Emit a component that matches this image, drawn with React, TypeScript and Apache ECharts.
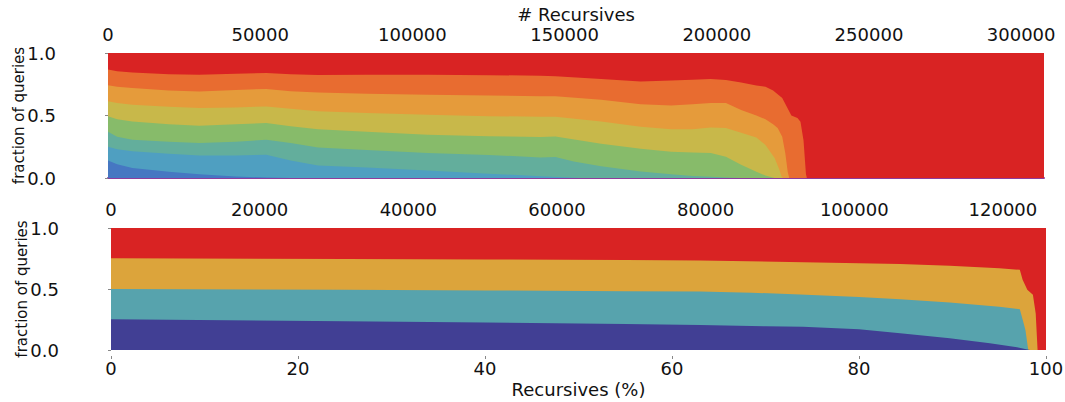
import React, { useEffect, useRef } from "react";
import * as echarts from "echarts";

// ---------- Top chart: cumulative boundaries vs # Recursives ----------
const topMax = 307500;
const topTicks = [0, 50000, 100000, 150000, 200000, 250000, 300000];

const topRed: number[][] = [[0, 1], [307500, 1]];
const topOrange: number[][] = [[0, 0.868], [3000, 0.855], [8000, 0.845], [20000, 0.83], [30000, 0.826], [42000, 0.835], [52000, 0.84], [60000, 0.83], [69000, 0.825], [85000, 0.826], [105000, 0.826], [125000, 0.823], [142000, 0.818], [147000, 0.815], [162000, 0.792], [175000, 0.773], [185000, 0.78], [192000, 0.786], [198000, 0.792], [203000, 0.785], [208000, 0.765], [213000, 0.74], [216000, 0.73], [218500, 0.7], [220000, 0.67], [221500, 0.64], [223000, 0.57], [224500, 0.5], [226500, 0.48], [227500, 0.45], [228500, 0.3], [229300, 0.03], [229600, 0]];
const topLightOrange: number[][] = [[0, 0.742], [3000, 0.73], [8000, 0.72], [20000, 0.7], [30000, 0.693], [42000, 0.705], [52000, 0.712], [60000, 0.695], [69000, 0.685], [85000, 0.675], [105000, 0.666], [125000, 0.66], [142000, 0.655], [147000, 0.655], [162000, 0.626], [175000, 0.59], [185000, 0.58], [192000, 0.59], [198000, 0.6], [203000, 0.6], [208000, 0.545], [213000, 0.5], [216000, 0.47], [218500, 0.43], [220000, 0.4], [221500, 0.33], [222500, 0.2], [223300, 0.05], [223800, 0]];
const topYellow: number[][] = [[0, 0.615], [3000, 0.6], [8000, 0.586], [20000, 0.57], [30000, 0.56], [42000, 0.565], [52000, 0.573], [60000, 0.555], [69000, 0.535], [85000, 0.52], [105000, 0.506], [125000, 0.495], [142000, 0.49], [147000, 0.49], [162000, 0.453], [175000, 0.41], [185000, 0.39], [192000, 0.39], [198000, 0.405], [203000, 0.4], [208000, 0.362], [213000, 0.325], [216000, 0.265], [219000, 0.16], [220500, 0.07], [221300, 0.01], [221800, 0]];
const topGreen: number[][] = [[0, 0.495], [3000, 0.47], [8000, 0.453], [20000, 0.43], [30000, 0.418], [42000, 0.43], [52000, 0.44], [60000, 0.415], [69000, 0.39], [85000, 0.37], [105000, 0.346], [125000, 0.335], [142000, 0.328], [147000, 0.333], [162000, 0.275], [175000, 0.235], [185000, 0.21], [192000, 0.205], [198000, 0.2], [203000, 0.17], [208000, 0.106], [213000, 0.05], [216000, 0.02], [219000, 0]];
const topTeal: number[][] = [[0, 0.37], [3000, 0.33], [8000, 0.306], [20000, 0.29], [30000, 0.28], [42000, 0.29], [52000, 0.306], [60000, 0.28], [69000, 0.245], [85000, 0.225], [105000, 0.2], [125000, 0.185], [142000, 0.165], [147000, 0.168], [153000, 0.133], [162000, 0.095], [175000, 0.053], [185000, 0.03], [192000, 0.017], [198000, 0.01], [203000, 0.005], [208000, 0]];
const topLightBlue: number[][] = [[0, 0.25], [3000, 0.23], [8000, 0.215], [20000, 0.195], [30000, 0.18], [42000, 0.18], [52000, 0.186], [60000, 0.14], [69000, 0.1], [85000, 0.085], [105000, 0.06], [125000, 0.035], [142000, 0.015], [155000, 0]];
const topBlue: number[][] = [[0, 0.14], [3000, 0.11], [8000, 0.08], [20000, 0.05], [30000, 0.03], [42000, 0.012], [52000, 0.004], [60000, 0]];

// ---------- Bottom chart: cumulative boundaries vs Recursives (%) ----------
const botCountMax = 125800;
const botPctTicks = [0, 20, 40, 60, 80, 100];

const botRed: number[][] = [[0, 1], [100, 1]];
const botOrange: number[][] = [[0, 0.753], [25, 0.745], [40, 0.742], [55, 0.738], [63, 0.734], [80, 0.712], [84.4, 0.705], [89.7, 0.69], [95, 0.671], [97.2, 0.657], [97.5, 0.575], [98, 0.493], [98.6, 0.452], [98.9, 0.3], [99.1, 0]];
const botTeal: number[][] = [[0, 0.501], [25, 0.493], [40, 0.488], [55, 0.482], [63, 0.479], [68.5, 0.47], [73.7, 0.455], [80, 0.435], [84.4, 0.415], [89.7, 0.39], [95, 0.355], [97.2, 0.335], [97.5, 0.25], [97.8, 0.164], [98.1, 0]];
const botNavy: number[][] = [[0, 0.252], [25, 0.235], [40, 0.225], [55, 0.213], [63, 0.205], [70, 0.195], [74, 0.19], [80, 0.17], [84.4, 0.137], [89.7, 0.096], [94, 0.055], [96.9, 0.022], [98, 0.005], [98.3, 0]];

const FONT = "DejaVu Sans";
const TXT = "#111";
const FS = 18;

function area(data: number[][], color: string, xi: number, yi: number) {
  return {
    type: "line",
    data,
    xAxisIndex: xi,
    yAxisIndex: yi,
    showSymbol: false,
    symbol: "none",
    silent: true,
    lineStyle: { width: 0 },
    areaStyle: { color, opacity: 1 },
    itemStyle: { color },
  };
}

const plain = (v: number) => String(v);

export default function App() {
  const ref = useRef<HTMLDivElement>(null);
  useEffect(() => {
    if (!ref.current) return;
    const chart = echarts.init(ref.current, undefined, { renderer: "svg" });
    const yAxisBase = (gi: number) => ({
      type: "value",
      gridIndex: gi,
      min: 0,
      max: 1,
      interval: 0.5,
      offset: 47,
      axisLine: { show: false },
      axisTick: { show: true, length: 3, lineStyle: { color: "#888" } },
      splitLine: { show: false },
      axisLabel: {
        fontSize: FS,
        fontFamily: FONT,
        color: TXT,
        margin: 5,
        formatter: (v: number) => v.toFixed(1),
      },
      name: "fraction of queries",
      nameLocation: "middle",
      nameGap: 35,
      nameMoveOverlap: false,
      nameTextStyle: { fontSize: 15, fontFamily: FONT, color: TXT },
    });
    const option: any = {
      animation: false,
      grid: [
        { left: 108, top: 53, width: 936, height: 125, containLabel: false, outerBoundsMode: "none" },
        { left: 111, top: 228, width: 935, height: 122, containLabel: false, outerBoundsMode: "none" },
      ],
      xAxis: [
        {
          type: "value",
          gridIndex: 0,
          position: "top",
          min: 0,
          max: topMax,
          interval: topTicks[1] - topTicks[0],
          offset: 6,
          axisLine: { show: false },
          axisTick: { show: true, length: 3, lineStyle: { color: "#888" } },
          splitLine: { show: false },
          axisLabel: { fontSize: FS, fontFamily: FONT, color: TXT, margin: 4, showMaxLabel: false, formatter: plain },
          name: "# Recursives",
          nameLocation: "middle",
          nameGap: 24,
          nameMoveOverlap: false,
          nameTextStyle: { fontSize: FS, fontFamily: FONT, color: TXT },
        },
        {
          type: "value",
          gridIndex: 0,
          position: "bottom",
          min: 0,
          max: topMax,
          axisLine: { show: true, lineStyle: { color: "#8e3c9c", width: 2 } },
          axisTick: { show: false },
          axisLabel: { show: false },
          splitLine: { show: false },
        },
        {
          type: "value",
          gridIndex: 1,
          position: "top",
          min: 0,
          max: botCountMax,
          interval: 20000,
          offset: 6,
          axisLine: { show: false },
          axisTick: { show: true, length: 3, lineStyle: { color: "#888" } },
          splitLine: { show: false },
          axisLabel: { fontSize: FS, fontFamily: FONT, color: TXT, margin: 4, showMaxLabel: false, formatter: plain },
        },
        {
          type: "value",
          gridIndex: 1,
          position: "bottom",
          min: 0,
          max: 100,
          interval: botPctTicks[1] - botPctTicks[0],
          offset: 6,
          axisLine: { show: false },
          axisTick: { show: true, length: 3, lineStyle: { color: "#888" } },
          splitLine: { show: false },
          axisLabel: { fontSize: FS, fontFamily: FONT, color: TXT, margin: 3, formatter: plain },
          name: "Recursives (%)",
          nameLocation: "middle",
          nameGap: 24,
          nameMoveOverlap: false,
          nameTextStyle: { fontSize: FS, fontFamily: FONT, color: TXT },
        },
      ],
      yAxis: [yAxisBase(0), yAxisBase(1)],
      series: [
        area(topRed, "#d92323", 0, 0),
        area(topOrange, "#e86c30", 0, 0),
        area(topLightOrange, "#e59b3b", 0, 0),
        area(topYellow, "#c8b84a", 0, 0),
        area(topGreen, "#87bb6a", 0, 0),
        area(topTeal, "#63ae9c", 0, 0),
        area(topLightBlue, "#4f9fc1", 0, 0),
        area(topBlue, "#4677c2", 0, 0),
        area(botRed, "#d92323", 3, 1),
        area(botOrange, "#dca43b", 3, 1),
        area(botTeal, "#57a3ad", 3, 1),
        area(botNavy, "#413f94", 3, 1),
      ],
    };
    chart.setOption(option);
    return () => chart.dispose();
  }, []);
  return (
    <div
      ref={ref}
      style={{ position: "fixed", left: 0, top: 0, width: 1065, height: 402, background: "#fff" }}
    />
  );
}
